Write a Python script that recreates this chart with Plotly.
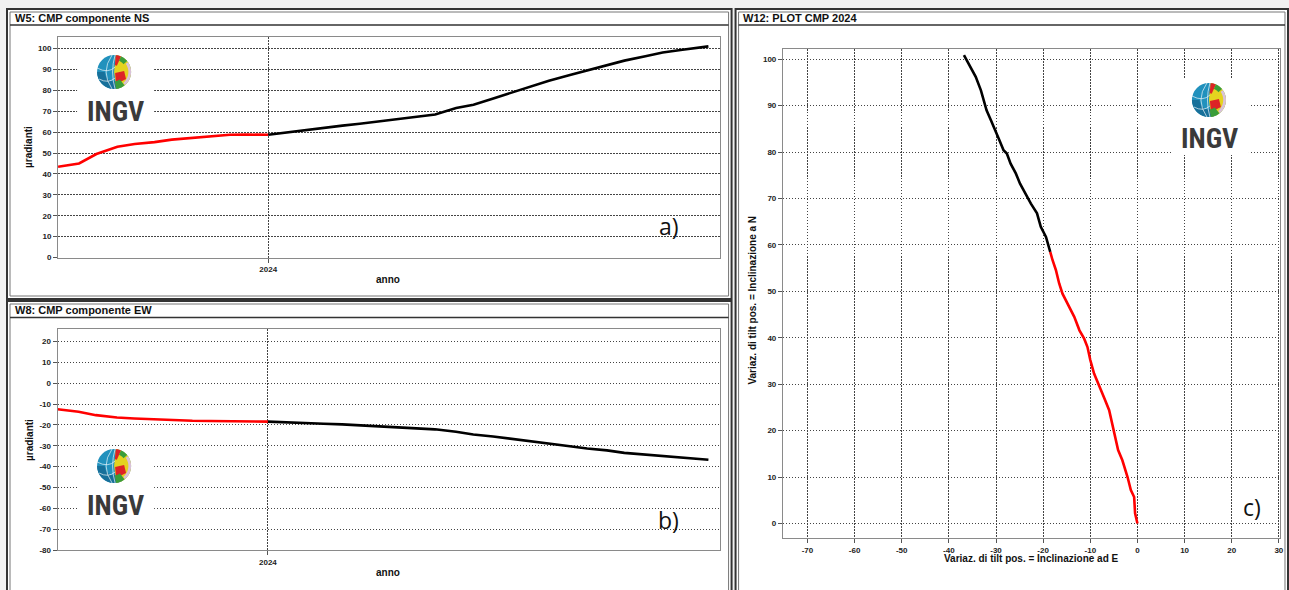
import math
import plotly.graph_objects as go

# reference canvas (all positions below are given in these pixel units)
W, H = 1289, 590

# ---- data ----
dates = ["2023-07-15", "2023-08-01", "2023-08-15", "2023-09-01", "2023-09-15", "2023-10-01",
         "2023-10-15", "2023-11-01", "2023-11-15", "2023-12-01", "2023-12-15", "2024-01-01",
         "2024-01-15", "2024-02-01", "2024-02-15", "2024-03-01", "2024-03-15", "2024-04-01",
         "2024-04-15", "2024-05-01", "2024-05-15", "2024-06-01", "2024-06-15", "2024-07-01",
         "2024-07-15", "2024-08-01", "2024-08-15", "2024-09-01", "2024-09-15", "2024-10-01",
         "2024-10-15", "2024-11-01", "2024-11-15", "2024-12-01", "2024-12-15", "2024-12-22"]
ns = [43.4, 45.0, 49.5, 53.0, 54.3, 55.2, 56.4, 57.3, 58.2, 58.7, 58.8, 58.7,
      59.8, 61.1, 62.2, 63.1, 64.0, 65.2, 66.2, 67.5, 68.4, 71.5, 73.1, 76.1,
      78.7, 82.2, 84.6, 87.3, 89.4, 92.1, 94.2, 96.3, 98.1, 99.4, 100.3, 101.0]
ew = [-12.5, -13.7, -15.3, -16.4, -16.9, -17.3, -17.7, -18.0, -18.1, -18.3, -18.3, -18.4,
      -18.6, -18.9, -19.4, -19.7, -20.2, -20.7, -21.2, -21.7, -22.1, -23.3, -24.6, -25.5,
      -26.5, -27.8, -28.9, -30.2, -31.3, -32.2, -33.4, -34.2, -35.1, -35.8, -36.4, -36.7]

# tilt vector plot (E, N), 2023 part in red and 2024 part in black
tilt_e_2023 = [0, -0.5, -0.7, -1.4, -2.1, -3.2, -4.1, -4.6, -5.3, -6.0, -7.0, -8.1,
               -9.2, -10.0, -10.6, -11.3, -12.3, -13.4, -14.8, -15.9, -16.6, -17.3, -18.0, -18.5]
tilt_n_2023 = [0, 2.2, 5.7, 7.2, 10.0, 13.6, 15.8, 17.9, 21.5, 24.4, 26.9, 29.4,
               32.3, 35.2, 38.0, 39.8, 41.6, 44.5, 47.4, 49.5, 51.7, 54.6, 56.7, 58.5]
tilt_e_2024 = [-18.5, -19.4, -20.5, -21.3, -22.6, -23.7, -24.9, -25.8, -26.9, -27.7,
               -28.4, -29.3, -30.1, -31.1, -32.0, -32.5, -33.2, -34.3, -35.4, -36.8]
tilt_n_2024 = [58.5, 61.7, 63.9, 66.8, 68.9, 71.1, 73.2, 75.4, 77.5, 79.7,
               80.4, 82.6, 84.7, 86.9, 89.0, 90.8, 93.3, 96.2, 98.3, 100.9]

# tick labels (plain hyphen minus, as in the original software)
ticks_ns = list(range(0, 101, 10))
ticks_ew = list(range(-80, 21, 10))
ticks_e = list(range(-70, 31, 10))

split = dates.index("2024-01-01")


def X(px):
    return px / W


def Y(py):
    return 1 - py / H


fig = go.Figure()
line_w = 2.6
fig.add_trace(go.Scatter(x=dates[:split + 1], y=ns[:split + 1], mode="lines",
                         line=dict(color="#ff0000", width=line_w), xaxis="x", yaxis="y"))
fig.add_trace(go.Scatter(x=dates[split:], y=ns[split:], mode="lines",
                         line=dict(color="#000000", width=line_w), xaxis="x", yaxis="y"))
fig.add_trace(go.Scatter(x=dates[:split + 1], y=ew[:split + 1], mode="lines",
                         line=dict(color="#ff0000", width=line_w), xaxis="x2", yaxis="y2"))
fig.add_trace(go.Scatter(x=dates[split:], y=ew[split:], mode="lines",
                         line=dict(color="#000000", width=line_w), xaxis="x2", yaxis="y2"))
fig.add_trace(go.Scatter(x=tilt_e_2023, y=tilt_n_2023, mode="lines",
                         line=dict(color="#ff0000", width=line_w), xaxis="x3", yaxis="y3"))
fig.add_trace(go.Scatter(x=tilt_e_2024, y=tilt_n_2024, mode="lines",
                         line=dict(color="#000000", width=line_w), xaxis="x3", yaxis="y3"))

tickfont = dict(family="Liberation Sans", size=8, color="#222", weight="bold")
common = dict(showgrid=True, griddash="1.5px,1.5px", gridcolor="#444", gridwidth=1,
              ticks="outside", ticklen=4, tickcolor="#555", showline=True,
              linecolor="#8a8a8a", linewidth=1, mirror=True, zeroline=False,
              tickfont=tickfont, fixedrange=True)


def num_ticks(vals):
    return dict(tickmode="array", tickvals=vals, ticktext=[str(v) for v in vals])


date_x = dict(type="date", range=["2023-07-15", "2024-12-31"],
              tickvals=["2024-01-01"], ticktext=["2024"], **common)

fig.update_layout(
    xaxis=dict(domain=[X(58), X(719)], anchor="y", **date_x),
    yaxis=dict(domain=[Y(257.5), Y(37)], anchor="x", range=[0, 105.5], **num_ticks(ticks_ns), **common),
    xaxis2=dict(domain=[X(57.5), X(719)], anchor="y2", **date_x),
    yaxis2=dict(domain=[Y(550), Y(329.3)], anchor="x2", range=[-80, 25.9], **num_ticks(ticks_ew), **common),
    xaxis3=dict(domain=[X(782.3), X(1279.3)], anchor="y3", range=[-75.2, 30.3], **num_ticks(ticks_e), **common),
    yaxis3=dict(domain=[Y(538.3), Y(49)], anchor="x3", range=[-3.2, 102.2], **num_ticks(ticks_ns), **common),
)

shapes = []
annotations = []


def rect(x0, y0, x1, y1, **kw):
    shapes.append(dict(type="rect", xref="paper", yref="paper",
                       x0=X(x0), x1=X(x1), y0=Y(y1), y1=Y(y0), **kw))


def hline(x0, x1, y, color="#333", width=1.5):
    shapes.append(dict(type="line", xref="paper", yref="paper", x0=X(x0), x1=X(x1),
                       y0=Y(y), y1=Y(y), line=dict(color=color, width=width), layer="above"))


def poly(points, color):
    path = "M " + " L ".join(f"{X(px):.5f},{Y(py):.5f}" for px, py in points) + " Z"
    shapes.append(dict(type="path", xref="paper", yref="paper", path=path,
                       fillcolor=color, line=dict(width=0), layer="above"))


def sector(cx, cy, r, a0, a1, r0, r1, color, n=12):
    pts = []
    for i in range(n + 1):
        a = math.radians(a0 + (a1 - a0) * i / n)
        pts.append((cx + r * r1 * math.cos(a), cy - r * r1 * math.sin(a)))
    for i in range(n + 1):
        a = math.radians(a1 + (a0 - a1) * i / n)
        pts.append((cx + r * r0 * math.cos(a), cy - r * r0 * math.sin(a)))
    poly(pts, color)


def logo(cx, cy, box):
    # white patch that hides the grid behind the logo
    rect(*box, fillcolor="white", line=dict(width=0), layer="above")
    r = 17
    shapes.append(dict(type="circle", xref="paper", yref="paper", x0=X(cx - r), x1=X(cx + r),
                       y0=Y(cy + r), y1=Y(cy - r), fillcolor="#2191bd", line=dict(width=0),
                       layer="above"))
    sector(cx, cy, r, 180, 300, 0.55, 1.0, "#17709a")
    sector(cx, cy, r, 84, -82, 0.0, 1.0, "#e4d31f", n=20)
    sector(cx, cy, r, 66, 84, 0.4, 1.0, "#dd2326")
    sector(cx, cy, r, 40, 66, 0.72, 1.0, "#3a9d3a")
    sector(cx, cy, r, 35, -50, 0.84, 1.0, "#d9c2da")
    poly([(cx + 1, cy + 1), (cx + 10, cy - 1), (cx + 12, cy + 7), (cx + 2, cy + 12)], "#dd2326")
    sector(cx, cy, r, -52, -84, 0.55, 1.0, "#3a9d3a")
    for path in [
        f"M {X(cx - 2):.5f},{Y(cy - r):.5f} Q {X(cx - 14):.5f},{Y(cy):.5f} {X(cx - 2):.5f},{Y(cy + r):.5f}",
        f"M {X(cx + 1):.5f},{Y(cy - r):.5f} Q {X(cx - 4):.5f},{Y(cy):.5f} {X(cx + 1):.5f},{Y(cy + r):.5f}",
        f"M {X(cx - r):.5f},{Y(cy - 4):.5f} Q {X(cx - 6):.5f},{Y(cy + 2):.5f} {X(cx + 1):.5f},{Y(cy - 5):.5f}",
        f"M {X(cx - r + 2):.5f},{Y(cy + 7):.5f} Q {X(cx - 6):.5f},{Y(cy + 12):.5f} {X(cx + 1):.5f},{Y(cy + 6):.5f}",
    ]:
        shapes.append(dict(type="path", xref="paper", yref="paper", path=path,
                           line=dict(color="rgba(255,255,255,0.8)", width=0.8), layer="above"))
    annotations.append(dict(text="INGV", x=X(cx + 1), y=Y(cy + 39), xref="paper", yref="paper",
                            showarrow=False, xanchor="center", yanchor="middle",
                            font=dict(family="Roboto Condensed, Liberation Sans Narrow, Roboto",
                                      size=28, color="#3a3a3a", weight="bold")))


# panel frames
for x0, y0, x1, y1, sep in [(7, 9, 731, 299, 25), (7, 301, 731, 595, 317.5), (735, 9, 1287, 595, 25)]:
    rect(x0, y0, x1, y1, fillcolor="white", line=dict(width=0), layer="below")
    rect(x0, y0, x1, y1, line=dict(color="#333", width=2), layer="above")
    rect(x0 + 3, y0 + 3, x1 - 3, y1 - 3, line=dict(color="#777", width=1), layer="above")
    hline(x0 + 3, x1 - 3, sep)

logo(114, 72, (77, 52, 154, 126))
logo(114, 466, (77, 455, 154, 525))
logo(1208, 100, (1172, 78, 1248, 155))


def label(text, x, y, size=10, angle=0, anchor="center", family="Liberation Sans", bold=True):
    annotations.append(dict(text=text, x=X(x), y=Y(y), xref="paper", yref="paper", showarrow=False,
                            xanchor=anchor, yanchor="middle", textangle=angle,
                            font=dict(family=family, size=size, color="#111",
                                      weight="bold" if bold else "normal")))


label("W5: CMP componente NS", 13, 17.5, size=11, anchor="left")
label("W8: CMP componente EW", 13, 309.5, size=11, anchor="left")
label("W12: PLOT CMP 2024", 740, 17.5, size=11, anchor="left")

label("µradianti", 29, 147, angle=-90)
label("anno", 388, 279)
label("µradianti", 29, 440, angle=-90)
label("anno", 388, 572)
label("Variaz. di tilt pos. = Inclinazione a N", 751, 300, angle=-90)
label("Variaz. di tilt pos. = Inclinazione ad E", 1031, 558)

label("a)", 668, 226, size=23, family="Open Sans", bold=False)
label("b)", 668, 520, size=23, family="Open Sans", bold=False)
label("c)", 1251, 507, size=23, family="Open Sans", bold=False)

fig.update_layout(
    # the captured page comes out ~0.5% / 0.9% smaller than asked, so ask a touch bigger
    width=1294, height=595,
    margin=dict(l=0, r=0, t=0, b=0),
    paper_bgcolor="#f1f1f1",
    plot_bgcolor="white",
    showlegend=False,
    shapes=shapes,
    annotations=annotations,
)

# drop the browser's default page margin so the figure sits at the window corner
fig.write_html("out.html", config={"displayModeBar": False},
               post_script="document.body.style.margin='0';document.body.style.overflow='hidden';")
